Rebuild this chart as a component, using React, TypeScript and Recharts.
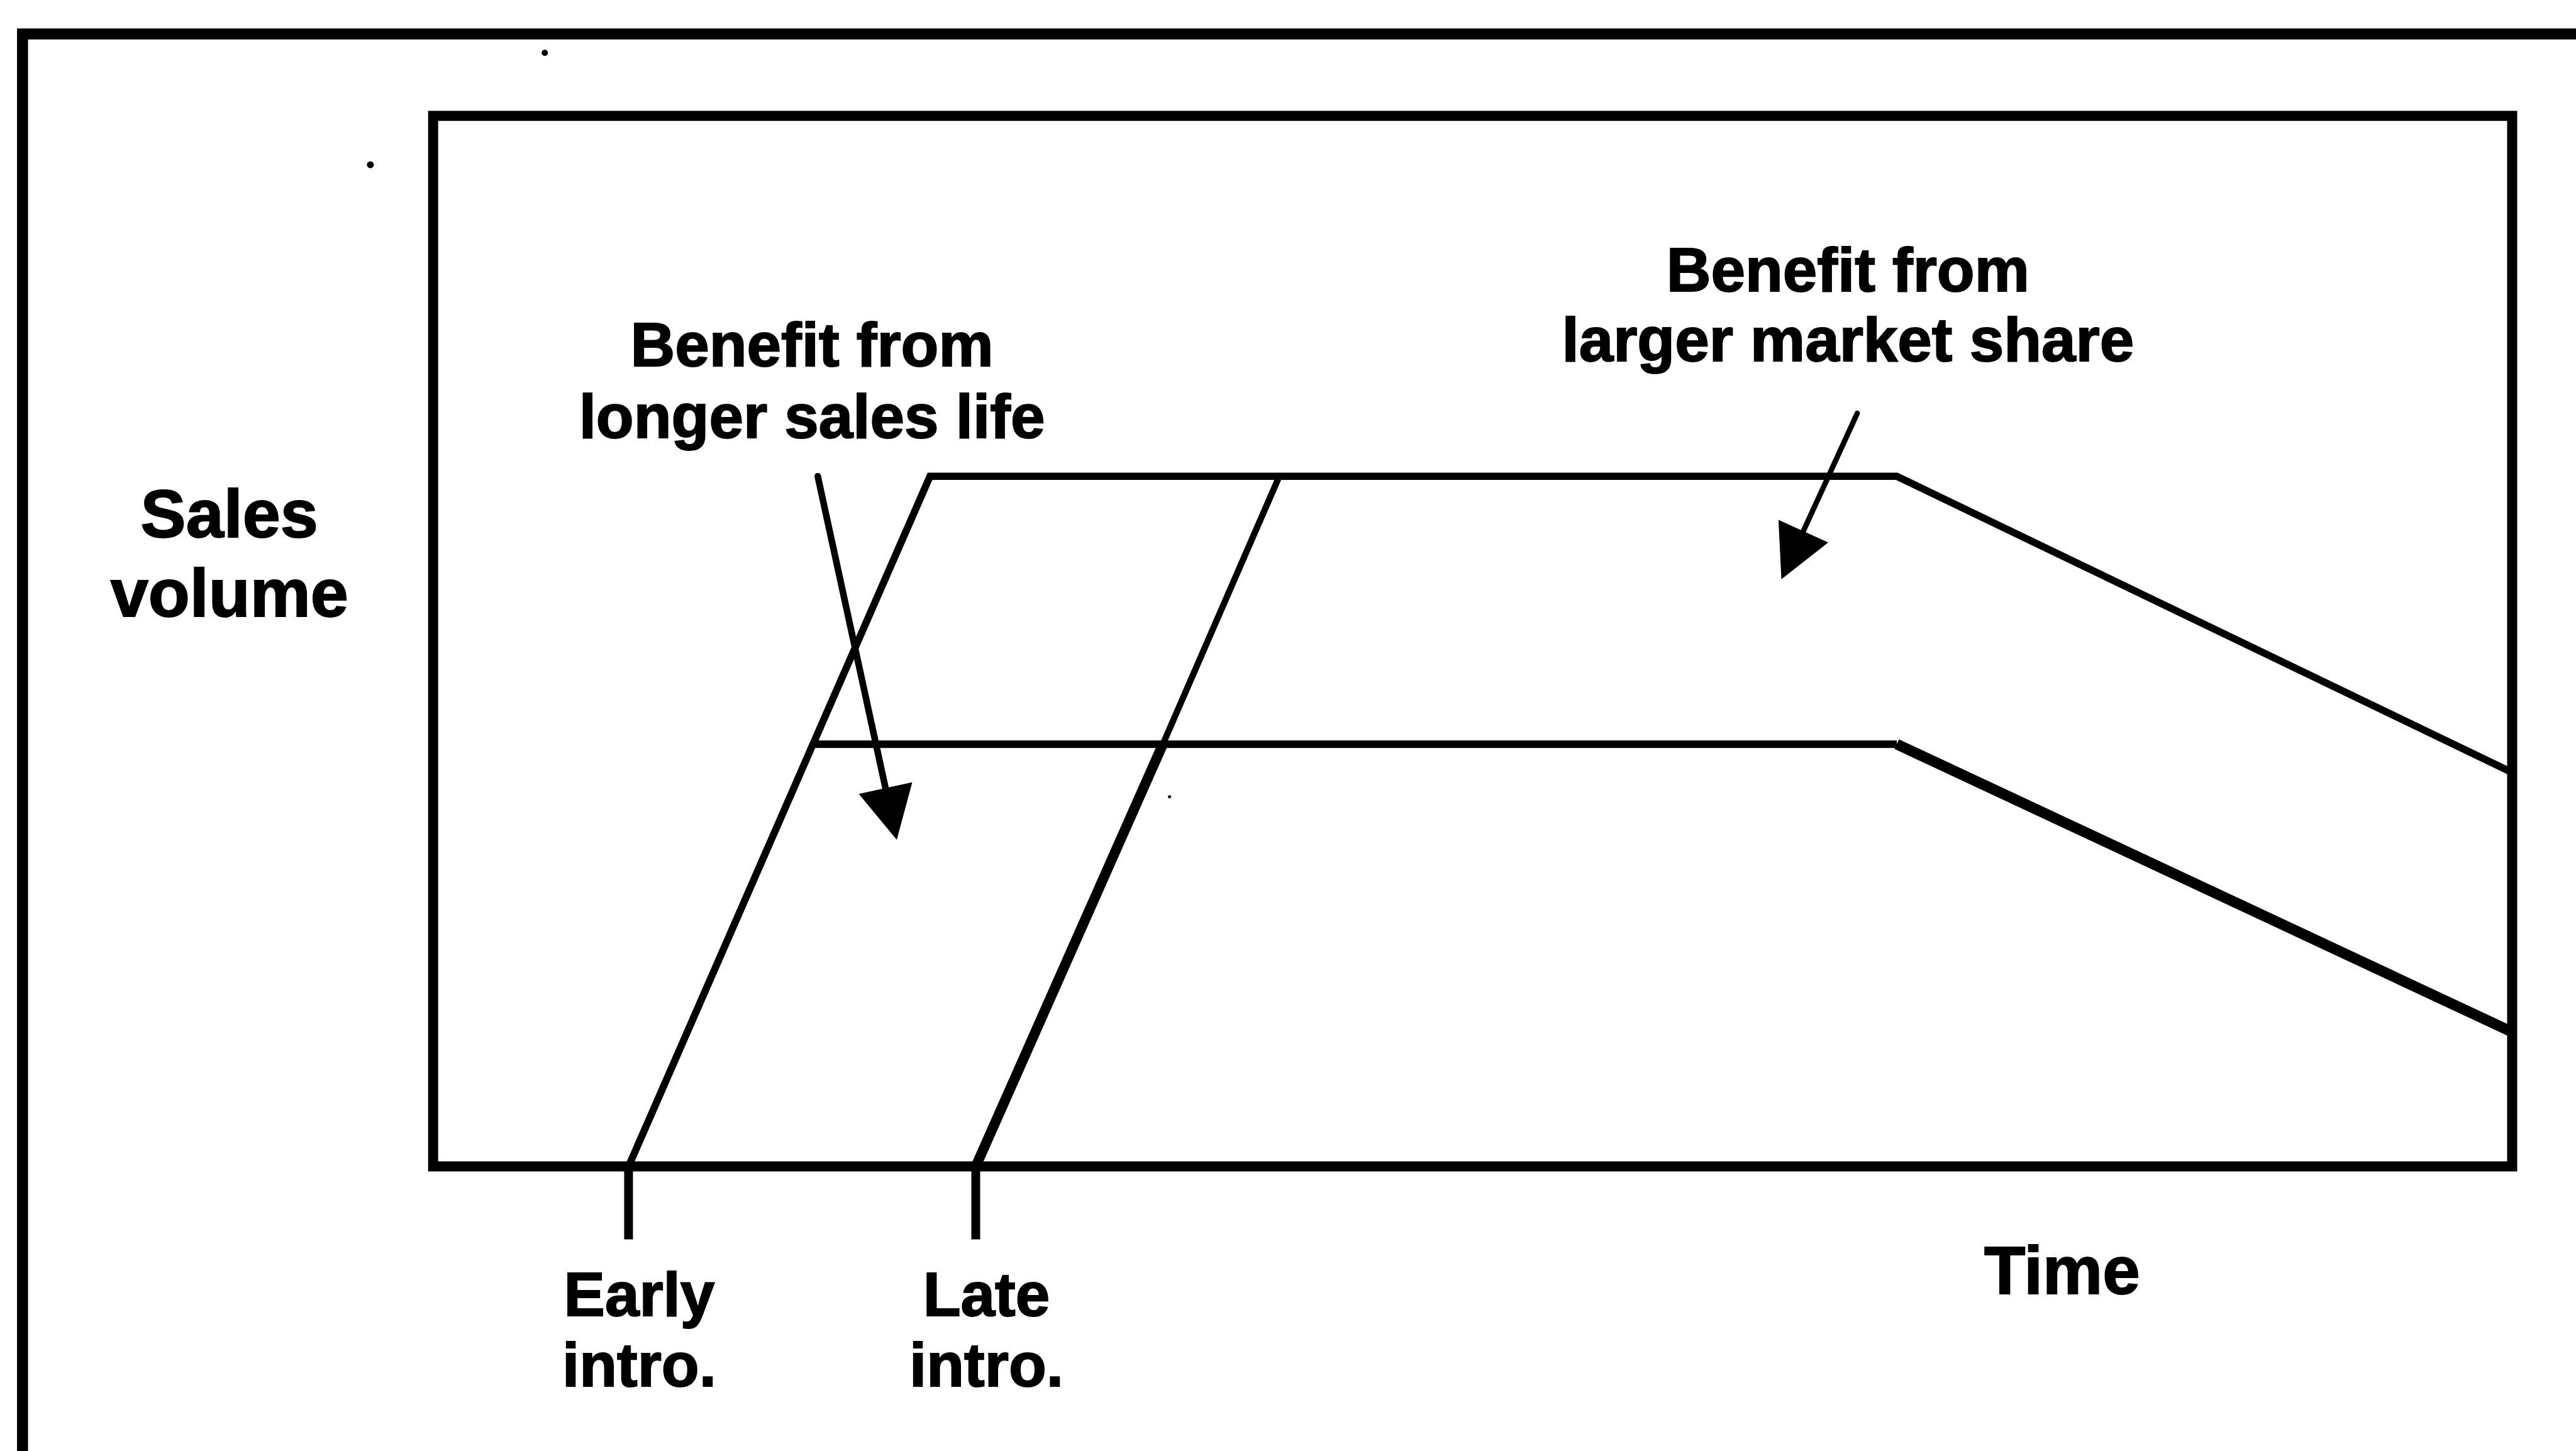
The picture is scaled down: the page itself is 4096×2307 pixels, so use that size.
import React from 'react';
import {
  ComposedChart,
  Line,
  XAxis,
  YAxis,
  ReferenceArea,
  ReferenceLine,
  ReferenceDot,
} from 'recharts';

// ---- data (time units 0..100 across the box, sales volume 0..100 up the box) ----
const earlyIntro = [
  { t: 9.4, v: 0 },
  { t: 23.9, v: 65.7 },
  { t: 70.4, v: 65.7 },
  { t: 100, v: 37.5 },
];
const lateRiseLower = [
  { t: 26.1, v: 0 },
  { t: 35.1, v: 40.2 },
];
const lateRiseUpper = [
  { t: 35.1, v: 40.2 },
  { t: 40.7, v: 65.7 },
];
const lowerPlateau = [
  { t: 18.3, v: 40.2 },
  { t: 70.4, v: 40.2 },
];
const lowerDecline = [
  { t: 70.4, v: 40.2 },
  { t: 100, v: 12.8 },
];

const introTicks = [9.4, 26.1];
const introLabels = [
  ['Early', 'intro.'],
  ['Late', 'intro.'],
];

const arrows = [
  { from: { t: 18.5, v: 65.7 }, to: { t: 22.3, v: 31.1 }, w: 10.5 },
  { from: { t: 68.5, v: 71.7 }, to: { t: 64.85, v: 55.9 }, w: 8.5 },
];

const annotations = [
  { lines: ['Sales', 'volume'], t: -9.8, v: 59.9, size: 108, gap: 126 },
  { lines: ['Benefit from', 'longer sales life'], t: 18.22, v: 76.2, size: 98, gap: 114 },
  { lines: ['Benefit from', 'larger market share'], t: 68.05, v: 83.3, size: 98, gap: 111 },
  { lines: ['Time'], t: 78.35, v: -12.1, size: 107, gap: 0 },
];

const specks = [
  { t: 5.37, v: 106.0, r: 5 },
  { t: -3.02, v: 95.35, r: 5.5 },
  { t: 35.42, v: 35.2, r: 2.5 },
];

const FONT = '"Liberation Sans", Arial, Helvetica, sans-serif';
const HEAD_LEN = 84;

const makeText = (lines: string[], size: number, gap: number) => (p: any) => (
  <text
    x={p.cx}
    y={p.cy}
    textAnchor="middle"
    fontFamily={FONT}
    fontWeight="bold"
    fontSize={size}
    fill="#000"
    stroke="#000"
    strokeWidth={2}
  >
    {lines.map((l, i) => (
      <tspan key={i} x={p.cx} dy={i === 0 ? 0 : gap}>
        {l}
      </tspan>
    ))}
  </text>
);

const IntroTick = (props: any) => {
  const { x, y, payload } = props;
  const idx = introTicks.indexOf(payload.value);
  const lines = introLabels[idx] || [];
  return (
    <text
      x={x + 17}
      y={y + 121.7}
      textAnchor="middle"
      fontFamily={FONT}
      fontWeight="bold"
      fontSize={98}
      fill="#000"
      stroke="#000"
      strokeWidth={2}
    >
      {lines.map((l, i) => (
        <tspan key={i} x={x + 17} dy={i === 0 ? 0 : 111.5}>
          {l}
        </tspan>
      ))}
    </text>
  );
};

const arrowShape = (w: number) => (p: any) => {
  const dx = p.x2 - p.x1;
  const dy = p.y2 - p.y1;
  const len = Math.sqrt(dx * dx + dy * dy) || 1;
  const ux = dx / len;
  const uy = dy / len;
  const sx = p.x2 - ux * (HEAD_LEN - 10);
  const sy = p.y2 - uy * (HEAD_LEN - 10);
  const a = Math.atan2(dy, dx);
  const half = 43.5;
  const bx = p.x2 - ux * HEAD_LEN;
  const by = p.y2 - uy * HEAD_LEN;
  const px = -Math.sin(a);
  const py = Math.cos(a);
  const pts = `${p.x2},${p.y2} ${bx + px * half},${by + py * half} ${bx - px * half},${by - py * half}`;
  return (
    <g>
      <line x1={p.x1} y1={p.y1} x2={sx} y2={sy} stroke="#000" strokeWidth={w} strokeLinecap="round" />
      <polygon points={pts} fill="#000" />
    </g>
  );
};

export default function App() {
  return (
    <div
      style={{
        position: 'absolute',
        left: 0,
        top: 0,
        width: 4096,
        height: 2307,
        background: '#fff',
      }}
    >
      <ComposedChart
        width={4096}
        height={2307}
        margin={{ top: 184.3, right: 101.5, bottom: 252.4, left: 688.7 }}
      >
        <XAxis
          type="number"
          dataKey="t"
          domain={[0, 100]}
          allowDataOverflow
          ticks={introTicks}
          interval={0}
          axisLine={false}
          tickLine={{ stroke: '#000', strokeWidth: 14 }}
          tickSize={116}
          tickMargin={0}
          height={200}
          tick={<IntroTick />}
        />
        <YAxis type="number" dataKey="v" domain={[0, 100]} allowDataOverflow hide />

        {/* outer frame (cut off by the page edge at right and bottom) */}
        <ReferenceArea
          x1={-19.75}
          x2={140}
          y1={-40}
          y2={107.8}
          fill="none"
          fillOpacity={0}
          stroke="#000"
          strokeWidth={17.5}
          ifOverflow="visible"
        />
        {/* plot box */}
        <ReferenceArea
          x1={0}
          x2={100}
          y1={0}
          y2={100}
          fill="none"
          fillOpacity={0}
          stroke="#000"
          strokeWidth={16}
          ifOverflow="visible"
        />

        <Line data={earlyIntro} dataKey="v" type="linear" stroke="#000" strokeWidth={11.5} dot={false} activeDot={false} isAnimationActive={false} />
        <Line data={lateRiseLower} dataKey="v" type="linear" stroke="#000" strokeWidth={16} dot={false} activeDot={false} isAnimationActive={false} />
        <Line data={lateRiseUpper} dataKey="v" type="linear" stroke="#000" strokeWidth={10} dot={false} activeDot={false} isAnimationActive={false} />
        <Line data={lowerPlateau} dataKey="v" type="linear" stroke="#000" strokeWidth={12} dot={false} activeDot={false} isAnimationActive={false} />
        <Line data={lowerDecline} dataKey="v" type="linear" stroke="#000" strokeWidth={17} dot={false} activeDot={false} isAnimationActive={false} />

        {arrows.map((a, i) => (
          <ReferenceLine
            key={'a' + i}
            segment={[
              { x: a.from.t, y: a.from.v },
              { x: a.to.t, y: a.to.v },
            ]}
            ifOverflow="visible"
            shape={arrowShape(a.w)}
          />
        ))}

        {specks.map((s, i) => (
          <ReferenceDot key={'s' + i} x={s.t} y={s.v} r={s.r} fill="#000" stroke="none" ifOverflow="visible" />
        ))}

        {annotations.map((a, i) => (
          <ReferenceDot
            key={'t' + i}
            x={a.t}
            y={a.v}
            r={0}
            ifOverflow="visible"
            shape={makeText(a.lines, a.size, a.gap)}
          />
        ))}
      </ComposedChart>
    </div>
  );
}
